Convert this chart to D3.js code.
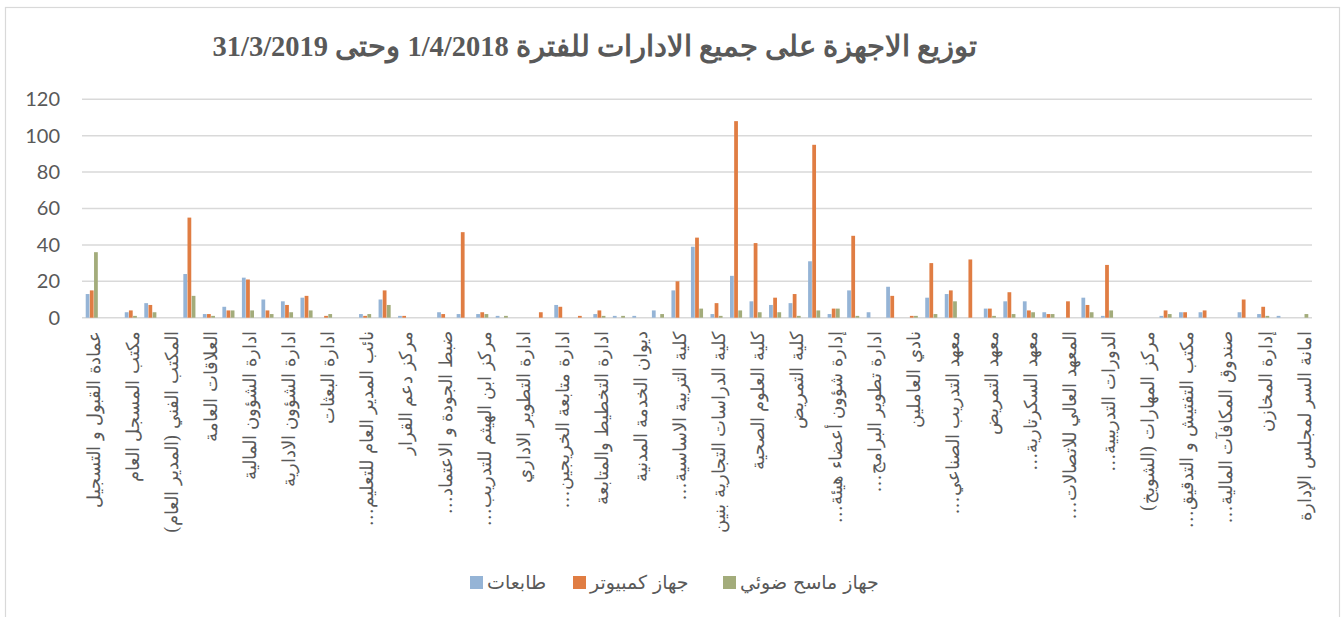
<!DOCTYPE html>
<html lang="ar">
<head>
<meta charset="utf-8">
<script src="https://cdn.jsdelivr.net/npm/d3@7"></script>
<style>
  html, body { margin: 0; padding: 0; background: #ffffff; }
  svg { display: block; }
</style>
</head>
<body>
<svg id="chart" width="1343" height="617"></svg>
<script>
// Device distribution per department, 1/4/2018 – 31/3/2019
const title = "توزيع الاجهزة على جميع الادارات للفترة 1/4/2018 وحتى 31/3/2019";

const seriesNames = ["طابعات", "جهاز كمبيوتر", "جهاز ماسح ضوئي"];
const seriesColors = ["#95b4d6", "#e07d43", "#a3ac7b"];

// Only every other department name is printed along the axis
const tickLabels = [
  "عمادة القبول و التسجيل",
  "مكتب المسجل العام",
  "المكتب الفني (المدير العام)",
  "العلاقات العامة",
  "ادارة الشؤون المالية",
  "ادارة الشؤون الادارية",
  "ادارة البعثات",
  "نائب المدير العام للتعليم…",
  "مركز دعم القرار",
  "ضبط الجودة و الاعتماد…",
  "مركز ابن الهيثم للتدريب…",
  "ادارة التطوير الاداري",
  "ادارة متابعة الخريجين…",
  "ادارة التخطيط والمتابعة",
  "ديوان الخدمة المدنية",
  "كلية التربية الاساسية…",
  "كلية الدراسات التجارية بنين",
  "كلية العلوم الصحية",
  "كلية التمريض",
  "إدارة شؤون أعضاء هيئة…",
  "ادارة تطوير البرامج…",
  "نادي العاملين",
  "معهد التدريب الصناعي…",
  "معهد التمريض",
  "معهد السكرتارية…",
  "المعهد العالي للاتصالات…",
  "الدورات التدريبية…",
  "مركز المهارات (الشويخ)",
  "مكتب التفتيش و التدقيق…",
  "صندوق المكافآت المالية…",
  "إدارة المخازن",
  "امانة السر لمجلس الإدارة"
];
const labelStep = 2;

// طابعات
const printers = [
  13, 0, 3, 8, 0, 24, 2, 6, 22, 10, 9, 11, 0, 0, 2, 10,
  1, 0, 3, 2, 2, 1, 0, 0, 7, 0, 2, 1, 1, 4, 15, 39,
  2, 23, 9, 7, 8, 31, 2, 15, 3, 17, 0, 11, 13, 0, 5, 9,
  9, 3, 0, 11, 1, 0, 0, 1, 3, 3, 0, 3, 2, 1, 0
];
// جهاز كمبيوتر
const computers = [
  15, 0, 4, 7, 0, 55, 2, 4, 21, 4, 7, 12, 1, 0, 1, 15,
  1, 0, 2, 47, 3, 0, 0, 3, 6, 1, 4, 0, 0, 0, 20, 44,
  8, 108, 41, 11, 13, 95, 5, 45, 0, 12, 1, 30, 15, 32, 5, 14,
  4, 2, 9, 7, 29, 0, 0, 4, 3, 4, 0, 10, 6, 0, 0
];
// جهاز ماسح ضوئي
const scanners = [
  36, 0, 1, 3, 0, 12, 1, 4, 4, 2, 3, 4, 2, 0, 2, 7,
  0, 0, 0, 0, 2, 1, 0, 0, 0, 0, 1, 1, 0, 2, 0, 5,
  1, 4, 3, 3, 1, 4, 5, 1, 0, 0, 1, 2, 9, 0, 1, 2,
  3, 2, 0, 3, 4, 0, 0, 2, 0, 0, 0, 0, 1, 0, 2
];

const yTicks = [0, 20, 40, 60, 80, 100, 120];

const series = [printers, computers, scanners];
const categoryIndex = d3.range(printers.length);

const svg = d3.select("#chart");
const plot = { left: 82, right: 1312, top: 99.3, bottom: 317.7 };
const textColor = "#595959";

// Chart frame
svg.append("rect")
  .attr("x", 5.5).attr("y", 7.5)
  .attr("width", 1334).attr("height", 620)
  .attr("fill", "#ffffff")
  .attr("stroke", "#d9d9d9").attr("stroke-width", 1.2);

// Title
svg.append("text")
  .attr("x", 595).attr("y", 56)
  .attr("text-anchor", "middle")
  .attr("direction", "rtl")
  .attr("font-family", "'Liberation Serif', 'DejaVu Serif', serif")
  .attr("font-weight", "bold")
  .attr("font-size", 28.5)
  .attr("fill", textColor)
  .text(title);

const x0 = d3.scaleBand()
  .domain(categoryIndex)
  .range([plot.left, plot.right])
  .paddingInner(0.36)
  .paddingOuter(0.18);

const x1 = d3.scaleBand()
  .domain(d3.range(series.length))
  .range([0, x0.bandwidth()]);

const y = d3.scaleLinear()
  .domain([0, 120])
  .range([plot.bottom, plot.top]);

// Gridlines
svg.append("g")
  .selectAll("line")
  .data(yTicks)
  .join("line")
  .attr("x1", plot.left).attr("x2", plot.right)
  .attr("y1", d => y(d)).attr("y2", d => y(d))
  .attr("stroke", "#d9d9d9")
  .attr("stroke-width", 1.5);

// Y axis labels
const yAxis = svg.append("g")
  .attr("transform", `translate(${plot.left},0)`)
  .call(d3.axisLeft(y).tickValues(yTicks).tickSize(0).tickPadding(22));
yAxis.select(".domain").remove();
yAxis.selectAll("text")
  .attr("font-family", "Lato, 'Open Sans', sans-serif")
  .attr("font-size", 20)
  .attr("fill", textColor);

// Bars
const groups = svg.append("g")
  .selectAll("g")
  .data(categoryIndex)
  .join("g")
  .attr("transform", i => `translate(${x0(i)},0)`);

groups.selectAll("rect")
  .data(i => series.map((s, k) => ({ k, v: s[i] })))
  .join("rect")
  .filter(d => d.v > 0)
  .attr("x", d => x1(d.k) + 0.2)
  .attr("width", x1.bandwidth() - 0.4)
  .attr("y", d => y(d.v))
  .attr("height", d => y(0) - y(d.v))
  .attr("fill", d => seriesColors[d.k]);

// Category labels, rotated, reading downward from the axis
const labelTop = 331;
svg.append("g")
  .selectAll("text")
  .data(tickLabels)
  .join("text")
  .attr("transform", (d, j) => {
    const i = j * labelStep;
    const cx = x0(i) + x0.bandwidth() / 2 + 2;
    return `translate(${cx},${labelTop}) rotate(-90)`;
  })
  .attr("dy", "0.35em")
  .attr("direction", "rtl")
  .attr("text-anchor", "start")
  .attr("font-family", "'DejaVu Serif', 'Liberation Serif', serif")
  .attr("font-size", 18)
  .attr("fill", textColor)
  .text(d => d);

// Legend
const legendItems = [
  { name: seriesNames[0], color: seriesColors[0], x: 470 },
  { name: seriesNames[1], color: seriesColors[1], x: 573 },
  { name: seriesNames[2], color: seriesColors[2], x: 723 }
];
const legend = svg.append("g");
legend.selectAll("rect")
  .data(legendItems)
  .join("rect")
  .attr("x", d => d.x).attr("y", 576)
  .attr("width", 13).attr("height", 13)
  .attr("fill", d => d.color);
legend.selectAll("text")
  .data(legendItems)
  .join("text")
  .attr("x", d => d.x + 17)
  .attr("y", 589)
  .attr("direction", "rtl")
  .attr("text-anchor", "end")
  .attr("font-family", "'DejaVu Sans', sans-serif")
  .attr("font-size", 19)
  .attr("fill", textColor)
  .text(d => d.name);
</script>
</body>
</html>
